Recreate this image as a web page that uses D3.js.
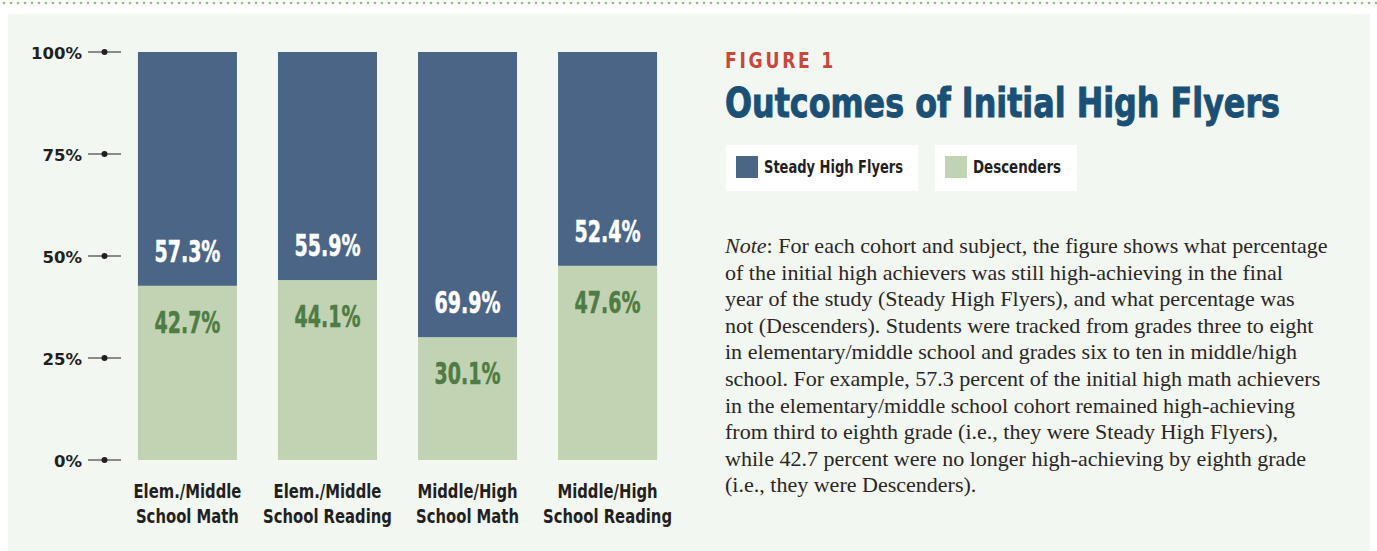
<!DOCTYPE html>
<html>
<head>
<meta charset="utf-8">
<script src="https://cdn.jsdelivr.net/npm/d3@7"></script>
<style>
  html, body { margin: 0; padding: 0; background: #ffffff; }
  svg { display: block; }
  .cond { font-family: "Liberation Sans Narrow", "DejaVu Sans Condensed", "DejaVu Sans", sans-serif; font-weight: 700; }
  .note { font-family: "Liberation Serif", "DejaVu Serif", serif; fill: #2b2626; }
</style>
</head>
<body>
<svg id="chart" width="1377" height="551"></svg>
<script>
const categories = [
  ["Elem./Middle", "School Math"],
  ["Elem./Middle", "School Reading"],
  ["Middle/High", "School Math"],
  ["Middle/High", "School Reading"],
];
const steadyHighFlyers = [57.3, 55.9, 69.9, 52.4];
const descenders = [42.7, 44.1, 30.1, 47.6];
const yTicks = [0, 25, 50, 75, 100];
const seriesNames = ["Steady High Flyers", "Descenders"];

const figureLabel = "FIGURE 1";
const title = "Outcomes of Initial High Flyers";
const noteLines = [
  "For each cohort and subject, the figure shows what percentage",
  "of the initial high achievers was still high-achieving in the final",
  "year of the study (Steady High Flyers), and what percentage was",
  "not (Descenders). Students were tracked from grades three to eight",
  "in elementary/middle school and grades six to ten in middle/high",
  "school. For example, 57.3 percent of the initial high math achievers",
  "in the elementary/middle school cohort remained high-achieving",
  "from third to eighth grade (i.e., they were Steady High Flyers),",
  "while 42.7 percent were no longer high-achieving by eighth grade",
  "(i.e., they were Descenders).",
];

const STEADY_COLOR = "#4b6586";
const DESC_COLOR = "#c1d3b2";
const DESC_TEXT = "#4f7b45";
const INK = "#231f20";
const TITLE_BLUE = "#1a4f76";

const svg = d3.select("#chart");

// no narrow font on the box, so squeeze the condensed labels horizontally
function squeeze(selection, targetWidth) {
  const sx = targetWidth / selection.node().getComputedTextLength();
  selection.attr("transform", function () {
    const cx = +this.getAttribute("x");
    return `translate(${cx},0) scale(${sx},1) translate(${-cx},0)`;
  });
}

// page background, dotted rule, panel
svg.append("g")
  .selectAll("circle")
  .data(d3.range(4, 1377, 7))
  .join("circle")
  .attr("cx", (d) => d)
  .attr("cy", 3)
  .attr("r", 1.3)
  .attr("fill", "#8dbf7d");

svg.append("rect")
  .attr("x", 8).attr("y", 14)
  .attr("width", 1362).attr("height", 537)
  .attr("fill", "#f2f7f1");

const rows = categories.map((lines, i) => ({
  index: i,
  lines,
  steady: steadyHighFlyers[i],
  descenders: descenders[i],
}));

const x = d3.scaleBand()
  .domain(rows.map((d) => d.index))
  .range([117.5, 677.5])
  .paddingInner(0.293)
  .paddingOuter(0.146);

const y = d3.scaleLinear().domain([0, 100]).range([460, 52]);

const stack = d3.stack().keys(["descenders", "steady"]);
const series = stack(rows);
const colors = { descenders: DESC_COLOR, steady: STEADY_COLOR };

svg.append("g")
  .selectAll("g")
  .data(series)
  .join("g")
  .attr("fill", (s) => colors[s.key])
  .selectAll("rect")
  .data((s) => s)
  .join("rect")
  .attr("x", (d) => x(d.data.index))
  .attr("width", x.bandwidth())
  .attr("y", (d) => y(d[1]))
  .attr("height", (d) => y(d[0]) - y(d[1]));

// value labels sit on either side of the split
const valueLabels = svg.append("g").attr("class", "cond").attr("text-anchor", "middle")
  .style("font-size", "31px");

const steadyLabels = valueLabels.selectAll("text.steady")
  .data(rows)
  .join("text")
  .attr("class", "steady")
  .attr("x", (d) => x(d.index) + x.bandwidth() / 2)
  .attr("y", (d) => y(d.descenders) - 24)
  .attr("fill", "#ffffff")
  .attr("stroke", "#ffffff")
  .attr("stroke-width", 0.5)
  .text((d) => `${d.steady.toFixed(1)}%`);
squeeze(steadyLabels, 66);

const descLabels = valueLabels.selectAll("text.desc")
  .data(rows)
  .join("text")
  .attr("class", "desc")
  .attr("x", (d) => x(d.index) + x.bandwidth() / 2)
  .attr("y", (d) => y(d.descenders) + 47)
  .attr("fill", DESC_TEXT)
  .attr("stroke", DESC_TEXT)
  .attr("stroke-width", 0.5)
  .text((d) => `${d.descenders.toFixed(1)}%`);
squeeze(descLabels, 66);

// y axis: label, short rule, dot
const yAxis = svg.append("g").selectAll("g")
  .data(yTicks)
  .join("g")
  .attr("transform", (d) => `translate(0,${y(d)})`);

yAxis.append("line")
  .attr("x1", 88).attr("x2", 121)
  .attr("stroke", INK).attr("stroke-width", 1.1);

yAxis.append("circle")
  .attr("cx", 104.5).attr("r", 3)
  .attr("fill", INK);

yAxis.append("text")
  .attr("x", 82)
  .attr("y", 6.5)
  .attr("text-anchor", "end")
  .style("font-family", "'DejaVu Sans', sans-serif")
  .style("font-weight", 700)
  .style("font-size", "16.5px")
  .attr("fill", INK)
  .text((d) => `${d}%`);

// category labels
const catLabels = svg.append("g").attr("class", "cond")
  .style("font-size", "20px")
  .attr("text-anchor", "middle")
  .attr("fill", INK)
  .selectAll("text")
  .data(rows)
  .join("text")
  .attr("x", (d) => x(d.index) + x.bandwidth() / 2)
  .attr("y", 498);

catLabels.selectAll("tspan")
  .data((d) => d.lines)
  .join("tspan")
  .attr("x", function () { return d3.select(this.parentNode).attr("x"); })
  .attr("dy", (d, i) => (i === 0 ? 0 : 25))
  .text((d) => d);

const firstLine = catLabels.select("tspan");
const catScale = 108 / firstLine.node().getComputedTextLength();
catLabels.attr("transform", function () {
  const cx = +this.getAttribute("x");
  return `translate(${cx},0) scale(${catScale},1) translate(${-cx},0)`;
});

// heading
svg.append("text")
  .attr("class", "cond")
  .attr("x", 725).attr("y", 68)
  .style("font-size", "21px")
  .style("letter-spacing", "3px")
  .attr("textLength", 111)
  .attr("lengthAdjust", "spacingAndGlyphs")
  .attr("fill", "#c8473a")
  .text(figureLabel);

svg.append("text")
  .attr("class", "cond")
  .attr("x", 725).attr("y", 117)
  .style("font-size", "40px")
  .attr("textLength", 555)
  .attr("lengthAdjust", "spacingAndGlyphs")
  .attr("fill", TITLE_BLUE)
  .attr("stroke", TITLE_BLUE)
  .attr("stroke-width", 0.9)
  .text(title);

// legend
const legendBoxes = [
  { x: 726, w: 192, text: 139 },
  { x: 935, w: 142, text: 88 },
];
const legend = svg.append("g").selectAll("g")
  .data(seriesNames)
  .join("g")
  .attr("transform", (d, i) => `translate(${legendBoxes[i].x},145)`);

legend.append("rect")
  .attr("width", (d, i) => legendBoxes[i].w)
  .attr("height", 46)
  .attr("fill", "#ffffff");

legend.append("rect")
  .attr("x", 10).attr("y", 11)
  .attr("width", 22).attr("height", 22)
  .attr("fill", (d, i) => (i === 0 ? STEADY_COLOR : DESC_COLOR));

legend.append("text")
  .attr("class", "cond")
  .attr("x", 38).attr("y", 28)
  .style("font-size", "17px")
  .attr("textLength", (d, i) => legendBoxes[i].text)
  .attr("lengthAdjust", "spacingAndGlyphs")
  .attr("fill", INK)
  .text((d) => d);

// note paragraph
const note = svg.append("g").attr("class", "note")
  .style("font-size", "20px");

const noteText = note.selectAll("text")
  .data(noteLines)
  .join("text")
  .attr("x", 0)
  .attr("y", (d, i) => i * 26.6);

noteText.filter((d, i) => i === 0).each(function () {
  const t = d3.select(this);
  t.append("tspan").style("font-style", "italic").text("Note");
  t.append("tspan").text(": ");
});
noteText.append("tspan").text((d) => d);

const firstWidth = noteText.node().getComputedTextLength();
const sx = 603 / firstWidth;
note.attr("transform", `translate(725,253) scale(${sx},1)`);
</script>
</body>
</html>
